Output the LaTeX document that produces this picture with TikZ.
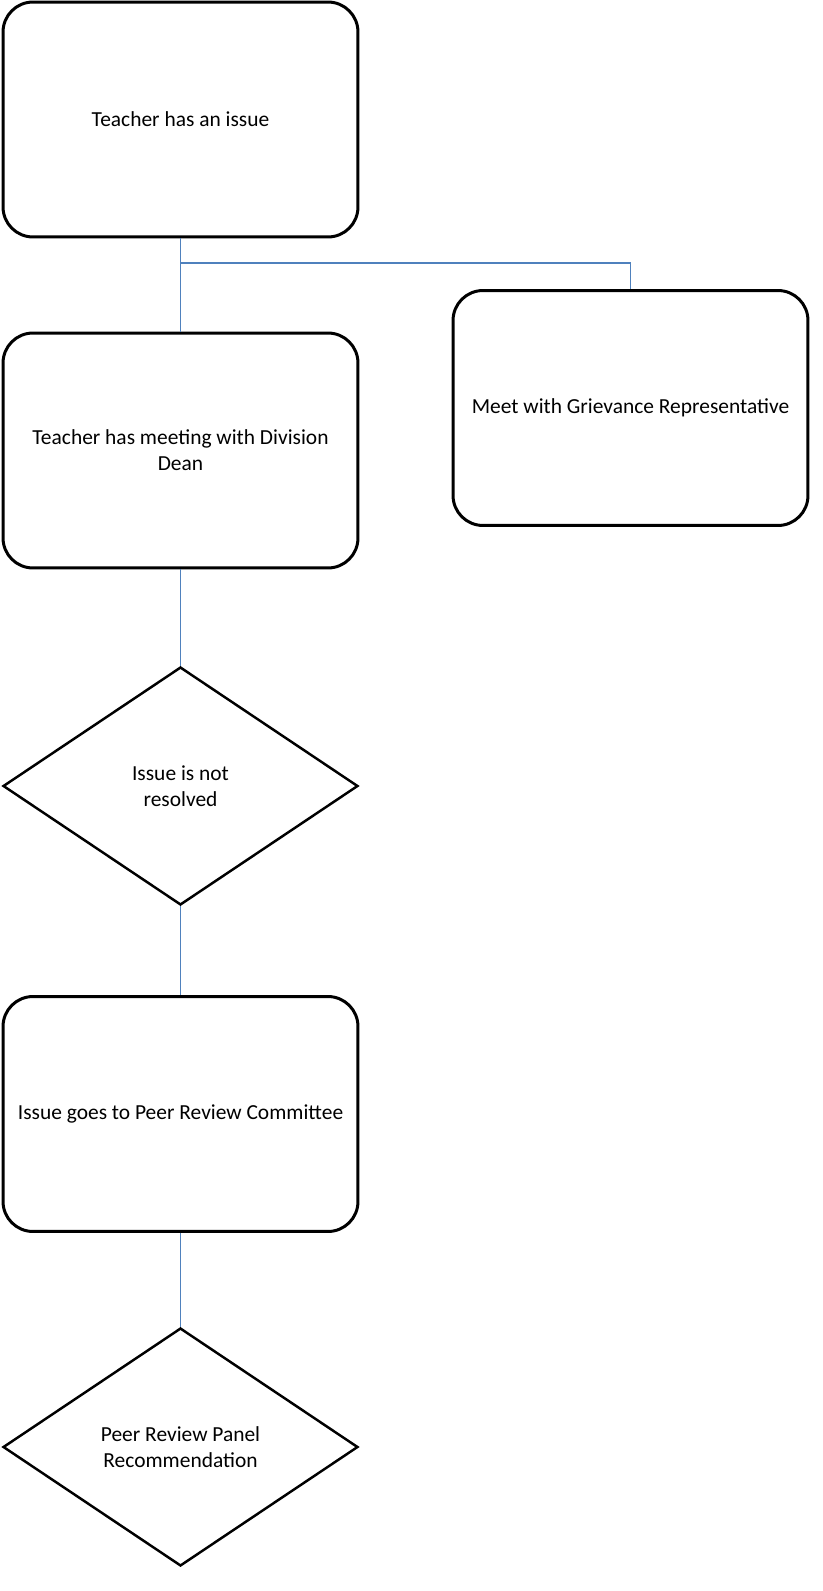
\documentclass[tikz,border=0pt]{standalone}
\usepackage{fontspec}
\setmainfont{Carlito}
\usetikzlibrary{shapes.geometric}
\definecolor{linkblue}{HTML}{4F81BD}
\tikzset{
  stepbox/.style={draw=black, line width=1.7pt, rounded corners=0.6cm, minimum width=7.1cm,
    minimum height=4.7cm, align=center, font=\fontsize{12.2}{14.8}\selectfont},
  choice/.style={draw=black, line width=1.4pt, diamond, inner sep=0pt, minimum width=7.1cm,
    minimum height=4.76cm, align=center, font=\fontsize{12.2}{14.8}\selectfont},
  link/.style={draw=linkblue, line width=1.1pt}
}
\begin{document}
\begin{tikzpicture}[x=0.02cm, y=-0.02cm]
                 \useasboundingbox (0,0) rectangle (822,1591);
                 \node[stepbox] (issue) at (180.5,119.5) {Teacher has an issue};
                 \node[stepbox] (dean) at (180.5,450.5) {Teacher has meeting with Division\\Dean};
                 \node[stepbox] (griev) at (630.5,408) {Meet with Grievance Representative};
                 \node[choice] (notres) at (180.5,786) {Issue is not\\resolved};
                 \node[stepbox] (peer) at (180.5,1114) {Issue goes to Peer Review Committee};
                 \node[choice] (panel) at (180.5,1447) {Peer Review Panel\\Recommendation};
                 \coordinate (split) at (180.5,263);
                 \draw[link] (issue) -- (dean);
                 \draw[link] (split) -| (griev);
                 \draw[link] (dean) -- (notres);
                 \draw[link] (notres) -- (peer);
                 \draw[link] (peer) -- (panel);
            \end{tikzpicture}
\end{document}
